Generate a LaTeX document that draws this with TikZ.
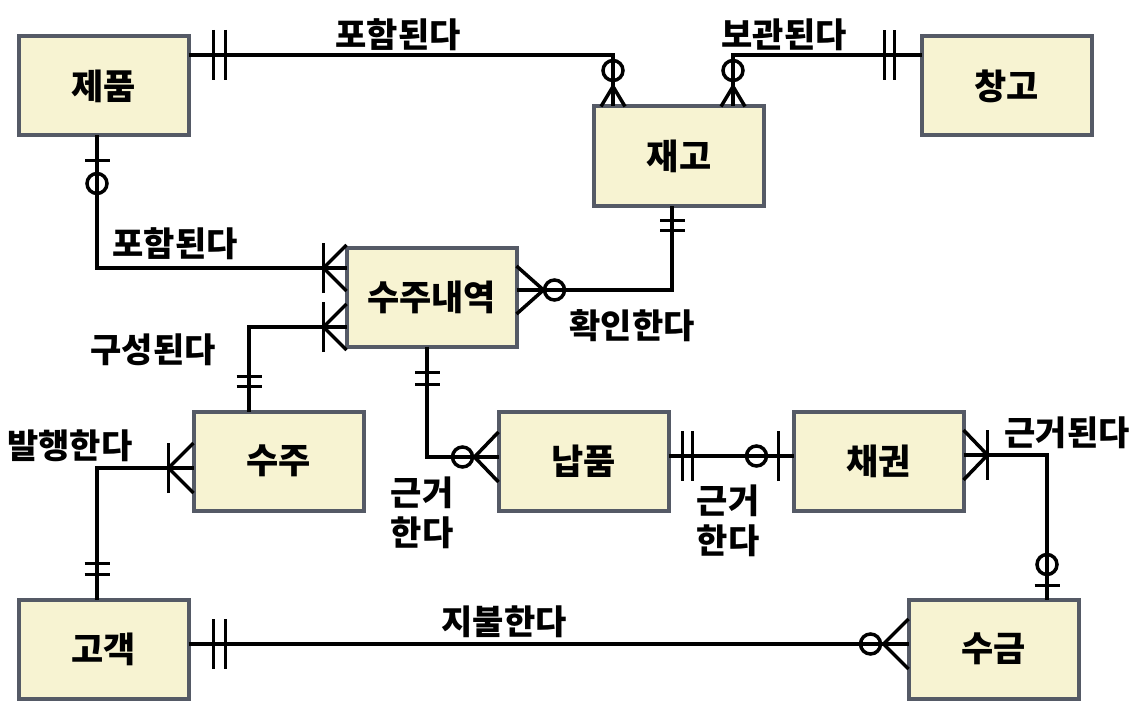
\documentclass[tikz,border=0pt]{standalone}
\usepackage{fontspec}
\usetikzlibrary{calc}

\newfontfamily\krfont{Noto Sans CJK KR}
\definecolor{boxfill}{RGB}{247,243,210}
\definecolor{boxline}{RGB}{85,90,102}

\tikzset{
    entity/.style={rectangle, draw=boxline, fill=boxfill, line width=4pt,
        minimum width=170pt, minimum height=99pt, outer sep=0pt,
        font=\krfont\bfseries\fontsize{35}{35}\selectfont},
    rel/.style={font=\krfont\bfseries\fontsize{34}{40}\selectfont, align=center},
    conn/.style={line width=3.5pt},
}

% end marks, drawn in a frame turned to point out of the box
\newcommand{\onebar}[4]{% point, angle, half length, distance
    \begin{scope}[shift={(#1)}, rotate=#2]
        \draw[conn] (#4,-#3) -- (#4,#3);
    \end{scope}}
\newcommand{\ring}[3]{% point, angle, distance
    \begin{scope}[shift={(#1)}, rotate=#2]
        \draw[conn] (#3,0) circle (10);
    \end{scope}}
\newcommand{\crow}[4]{% point, angle, half spread, length
    \begin{scope}[shift={(#1)}, rotate=#2]
        \draw[conn] (0,-#3) -- (#4,0) -- (0,#3);
    \end{scope}}

\begin{document}
\begin{tikzpicture}[x=1pt, y=-1pt]
    \useasboundingbox (0,0) rectangle (1137,714);

    % Define the entities with specific positions
    \node[entity] (jepum) at (103.5, 86) {제품};
    \node[entity] (jaego) at (679, 156) {재고};
    \node[entity] (changgo) at (1006.5, 86) {창고};
    \node[entity] (naeyeok) at (431.5, 297) {수주내역};
    \node[entity] (suju) at (278.5, 461) {수주};
    \node[entity] (napum) at (583.5, 461) {납품};
    \node[entity] (chaegwon) at (878.5, 461) {채권};
    \node[entity] (gogaek) at (103.5, 649) {고객};
    \node[entity] (sugeum) at (993.5, 649) {수금};

    % Relationship labels
    \node[rel] (r1) at (398, 35) {포함된다};
    \node[rel] (r2) at (784, 35) {보관된다};
    \node[rel] (r3) at (175, 244) {포함된다};
    \node[rel] (r4) at (153, 350) {구성된다};
    \node[rel] (r5) at (632, 326) {확인한다};
    \node[rel] (r6) at (70, 446) {발행한다};
    \node[rel] (r7) at (422, 513) {근거\\한다};
    \node[rel] (r8) at (728, 521) {근거\\한다};
    \node[rel] (r9) at (1067, 433) {근거된다};
    \node[rel] (r10) at (504, 622) {지불한다};

    % Connection points on the box edges
    \coordinate (a1) at ($(jepum.east)+(0,-31)$);
    \coordinate (b1) at ($(jaego.north)+(-66,0)$);
    \coordinate (a2) at ($(changgo.west)+(0,-31)$);
    \coordinate (b2) at ($(jaego.north)+(54,0)$);
    \coordinate (a3) at ($(jepum.south)+(-6.5,0)$);
    \coordinate (b3) at ($(naeyeok.west)+(0,-29)$);
    \coordinate (a4) at ($(suju.north)+(-29.5,0)$);
    \coordinate (b4) at ($(naeyeok.west)+(0,30)$);
    \coordinate (a5) at ($(naeyeok.east)+(0,-7)$);
    \coordinate (b5) at ($(jaego.south)+(-7,0)$);
    \coordinate (a6) at ($(naeyeok.south)+(-4.5,0)$);
    \coordinate (b6) at ($(napum.west)+(0,-4)$);
    \coordinate (a7) at ($(napum.east)+(0,-5)$);
    \coordinate (b7) at ($(chaegwon.west)+(0,-5)$);
    \coordinate (a8) at ($(chaegwon.east)+(0,-6)$);
    \coordinate (b8) at ($(sugeum.north)+(53.5,0)$);
    \coordinate (a9) at ($(suju.west)+(0,7)$);
    \coordinate (b9) at ($(gogaek.north)+(-6.5,0)$);
    \coordinate (a10) at ($(gogaek.east)+(0,-5)$);
    \coordinate (b10) at ($(sugeum.west)+(0,-5)$);

    % Draw the connectors
    \draw[conn] (a1) -| (b1);
    \draw[conn] (a2) -| (b2);
    \draw[conn] (a3) |- (b3);
    \draw[conn] (a4) |- (b4);
    \draw[conn] (a5) -| (b5);
    \draw[conn] (a6) |- (b6);
    \draw[conn] (a7) -- (b7);
    \draw[conn] (a8) -| (b8);
    \draw[conn] (a9) -| (b9);
    \draw[conn] (a10) -- (b10);

    % End marks
    \onebar{a1}{0}{25}{25} \onebar{a1}{0}{25}{37}
    \crow{b1}{90}{12}{20} \ring{b1}{90}{36}
    \onebar{a2}{180}{25}{27} \onebar{a2}{180}{25}{37}
    \crow{b2}{90}{12}{20} \ring{b2}{90}{36}
    \onebar{a3}{-90}{12.5}{25} \ring{a3}{-90}{48}
    \crow{b3}{180}{23}{23} \onebar{b3}{180}{25}{23}
    \onebar{a4}{90}{12.5}{25} \onebar{a4}{90}{12.5}{35}
    \crow{b4}{180}{23}{23} \onebar{b4}{180}{25}{23}
    \crow{a5}{0}{24}{27} \ring{a5}{0}{38}
    \onebar{b5}{-90}{12.5}{15} \onebar{b5}{-90}{12.5}{25}
    \onebar{a6}{-90}{12.5}{26} \onebar{a6}{-90}{12.5}{38}
    \crow{b6}{180}{25}{24} \ring{b6}{180}{36}
    \onebar{a7}{0}{25}{14} \onebar{a7}{0}{25}{24}
    \onebar{b7}{180}{25}{15} \ring{b7}{180}{37}
    \crow{a8}{0}{25}{24} \onebar{a8}{0}{25}{24}
    \onebar{b8}{90}{12.5}{14} \ring{b8}{90}{35}
    \crow{a9}{180}{25}{25} \onebar{a9}{180}{25}{25}
    \onebar{b9}{90}{12.5}{25} \onebar{b9}{90}{12.5}{36}
    \onebar{a10}{0}{25}{25} \onebar{a10}{0}{25}{37}
    \crow{b10}{180}{25}{25} \ring{b10}{180}{38}
\end{tikzpicture}
\end{document}
